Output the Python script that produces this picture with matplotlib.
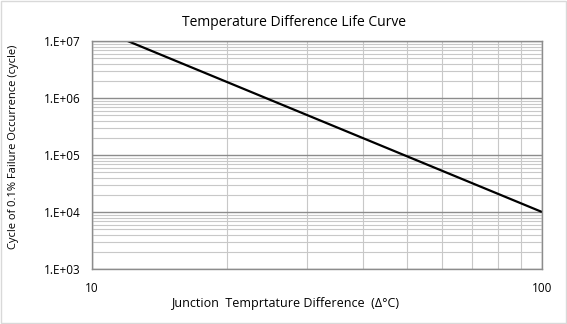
import numpy as np
import matplotlib
matplotlib.use('Agg')
import matplotlib.pyplot as plt
from matplotlib.ticker import LogLocator, FixedLocator, NullFormatter, FuncFormatter
from matplotlib.patches import Rectangle

# --- data ---
delta_t = [12, 100]            # junction temperature difference (deg C)
cycles = [1e7, 1e4]            # cycles of 0.1% failure occurrence
x_ticks = [10, 100]
y_ticks = [1e3, 1e4, 1e5, 1e6, 1e7]

plt.rcParams['font.family'] = ['Open Sans', 'DejaVu Sans']

W, H = 567, 324
fig = plt.figure(figsize=(W / 100, H / 100), dpi=100)
fig.patches.append(Rectangle((0.001, 0.002), 0.997, 0.995, transform=fig.transFigure,
                             fill=False, edgecolor='#d9d9d9', linewidth=1))
ax = fig.add_axes([92 / W, 1 - 269 / H, 450 / W, 228 / H])

ax.plot(delta_t, cycles, color='black', linewidth=1.6, solid_capstyle='butt')

ax.set_xscale('log')
ax.set_yscale('log')
ax.set_xlim(10, 100)
ax.set_ylim(1e3, 1e7)

ax.xaxis.set_major_locator(FixedLocator(x_ticks))
ax.yaxis.set_major_locator(FixedLocator(y_ticks))
ax.xaxis.set_minor_locator(LogLocator(base=10, subs=np.arange(2, 10)))
ax.yaxis.set_minor_locator(LogLocator(base=10, subs=np.arange(2, 10)))
ax.xaxis.set_minor_formatter(NullFormatter())
ax.yaxis.set_minor_formatter(NullFormatter())
ax.xaxis.set_major_formatter(FuncFormatter(lambda v, p: f'{v:.0f}'))
ax.yaxis.set_major_formatter(FuncFormatter(lambda v, p: f'1.E+{int(round(np.log10(v))):02d}'))

ax.grid(which='major', color='#8c8c8c', linewidth=1)
ax.grid(which='minor', color='#c8c8c8', linewidth=0.8)
ax.set_axisbelow(True)
for s in ax.spines.values():
    s.set_color('#8c8c8c')
    s.set_linewidth(1)

ax.tick_params(which='both', length=0)
ax.tick_params(axis='x', pad=9, labelsize=8.5)
ax.tick_params(axis='y', pad=8.5, labelsize=8.5)

# title and axis labels placed as in the reference (not centred on the axes)
fig.text(294 / W, 1 - 23 / H, 'Temperature Difference Life Curve',
         fontsize=10, ha='center', va='center')
fig.text(285 / W, 1 - 304 / H, 'Junction  Temprtature Difference  (\u0394\u00b0C)',
         fontsize=9, ha='center', va='center')
fig.text(14 / W, 1 - 147 / H, 'Cycle of 0.1% Failure Occurrence (cycle)',
         fontsize=8, ha='center', va='center', rotation=90)

fig.savefig('out.png', dpi=100)
